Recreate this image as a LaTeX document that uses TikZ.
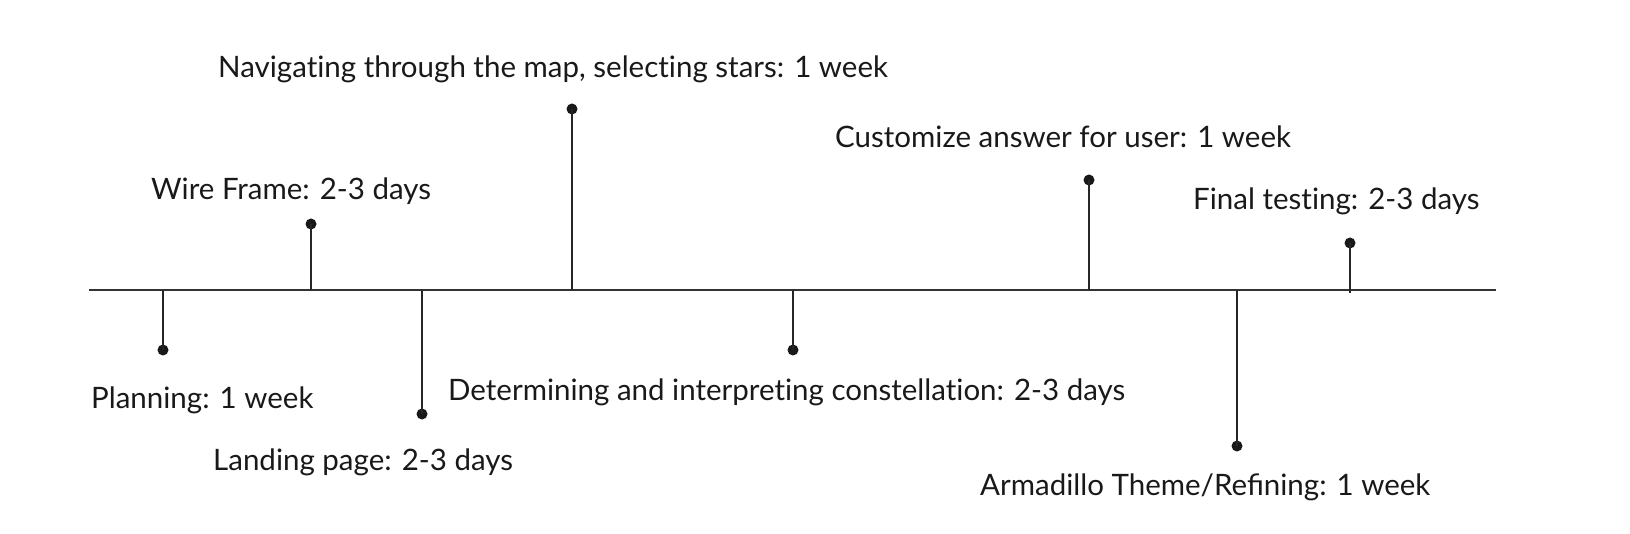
\documentclass[tikz,border=0pt]{standalone}
\usepackage{fontspec}
\setmainfont{Lato}[Ligatures=NoCommon]
\begin{document}
\begin{tikzpicture}[x=1pt,y=-1pt,
  dotnode/.style={circle,fill=black!90,inner sep=0pt,minimum size=11pt},
  lbl/.style={anchor=base west,inner sep=0pt,font=\fontsize{29.5}{34}\selectfont,text=black!90},
  stem/.style={line width=1.5pt,draw=black!85},
  axisline/.style={line width=2pt,draw=black!80}]
\useasboundingbox (0,0) rectangle (1630,534);
\coordinate (axL) at (89,290);
\coordinate (axR) at (1496,290);
\draw[axisline] (axL) -- (axR);
% stem bases
\coordinate (b1) at (163,290);
\coordinate (b2) at (311,290);
\coordinate (b3) at (422,290);
\coordinate (b4) at (572,290);
\coordinate (b5) at (793,290);
\coordinate (b6) at (1089,290);
\coordinate (b7) at (1237,290);
\coordinate (b8) at (1350,293);
% dots
\node[dotnode] (d1) at (163,350) {};
\node[dotnode] (d2) at (311,224) {};
\node[dotnode] (d3) at (422,414) {};
\node[dotnode] (d4) at (572,109) {};
\node[dotnode] (d5) at (793,350) {};
\node[dotnode] (d6) at (1089,180) {};
\node[dotnode] (d7) at (1237,446) {};
\node[dotnode] (d8) at (1350,243) {};
\foreach \i in {1,...,8} \draw[stem] (b\i) -- (d\i.center);
% labels
\node[lbl] (t1) at (91,408) {Planning: 1 week};
\node[lbl] (t2) at (151,200) {Wire Frame: 2-3 days};
\node[lbl] (t3) at (213,470) {Landing page: 2-3 days};
\node[lbl] (t4) at (218,78) {Navigating through the map, selecting stars: 1 week};
\node[lbl] (t5) at (448,400) {Determining and interpreting constellation: 2-3 days};
\node[lbl] (t6) at (835,148) {Customize answer for user: 1 week};
\node[lbl] (t7) at (980,495) {Armadillo Theme/Reﬁning: 1 week};
\node[lbl] (t8) at (1193,210) {Final testing: 2-3 days};
\end{tikzpicture}
\end{document}
